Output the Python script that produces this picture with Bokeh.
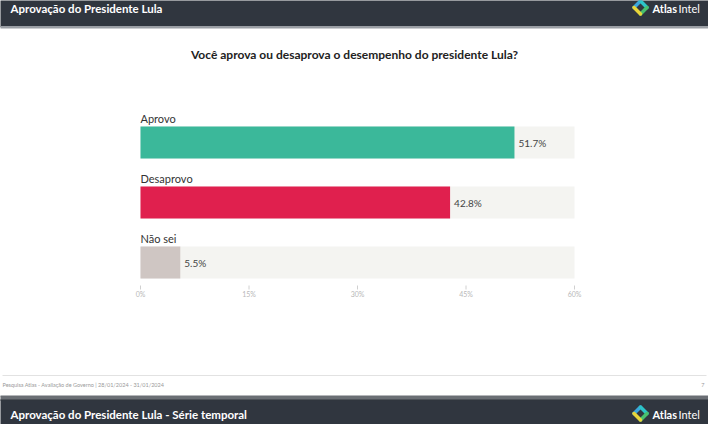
from bokeh.plotting import figure
from bokeh.models import Range1d
from bokeh.core.properties import value
from bokeh.embed import file_html
from bokeh.resources import INLINE

# ---------------- data ----------------
categories = ["Aprovo", "Desaprovo", "Não sei"]
values = [51.7, 42.8, 5.5]
value_labels = ["51.7%", "42.8%", "5.5%"]
bar_colors = ["#3bb89a", "#e0204e", "#cfc6c3"]
ticks = [0, 15, 30, 45, 60]
tick_labels = ["0%", "15%", "30%", "45%", "60%"]
axis_max = 60

chart_title = "Você aprova ou desaprova o desempenho do presidente Lula?"
header_text = "Aprovação do Presidente Lula"
next_header_text = "Aprovação do Presidente Lula - Série temporal"
footer_text = "Pesquisa Atlas - Avaliação de Governo | 28/01/2024 - 31/01/2024"
page_number = "7"

# ---------------- layout helpers (page pixels -> data units) ----------------
W, H = 708, 424
M = 8                      # page margin
X0_PX, XMAX_PX = 148, 582  # where 0% and 60% sit on the page
ROW0_PX, ROW_STEP = 150, 60
SX = (XMAX_PX - X0_PX) / axis_max


def X(px):
    return (px - X0_PX) / SX


def Y(py):
    return (py - ROW0_PX) / ROW_STEP


FONT = value("Lato")
DARK = "#30363f"

p = figure(width=W, height=H,
           x_range=Range1d(X(M), X(M + W)),
           y_range=Range1d(Y(M + H), Y(M)),
           x_axis_location=None, y_axis_location=None,
           min_border=0, toolbar_location=None, output_backend="svg",
           outline_line_color=None, background_fill_color="white",
           border_fill_color="white")
p.grid.visible = False

# slide header / next slide header
p.quad(left=X(0), right=X(724), top=Y(0), bottom=Y(34), color=DARK)
p.quad(left=X(0), right=X(724), top=Y(34), bottom=Y(35.5), color="#9a9ea4")
p.quad(left=X(0), right=X(724), top=Y(403.5), bottom=Y(407.5), color="#6b6f75")
p.quad(left=X(0), right=X(724), top=Y(407.5), bottom=Y(440), color=DARK)

p.text(x=[X(18)], y=[Y(16)], text=[header_text], text_font=FONT,
       text_font_style="bold", text_font_size="11.5px", text_color="#ffffff",
       text_baseline="middle", text_align="left")
p.text(x=[X(18)], y=[Y(422)], text=[next_header_text], text_font=FONT,
       text_font_style="bold", text_font_size="11.5px", text_color="#ffffff",
       text_baseline="middle", text_align="left")


def logo(cx, cy):
    r = 6.5
    pts = [(cx - r, cy), (cx, cy - r), (cx + r, cy), (cx, cy + r)]
    cols = ["#3aa6dc", "#2cc3c8", "#49c06d", "#e8d63a"]
    for i in range(4):
        a = pts[i]
        b = pts[(i + 1) % 4]
        p.segment(x0=[X(a[0])], y0=[Y(a[1])], x1=[X(b[0])], y1=[Y(b[1])],
                  line_color=cols[i], line_width=3.5, line_cap="round")
    p.text(x=[X(cx + 12)], y=[Y(cy + 1)], text=["Atlas"], text_font=FONT,
           text_font_style="bold", text_font_size="11px", text_color="#ffffff",
           text_baseline="middle", text_align="left")
    p.text(x=[X(cx + 38)], y=[Y(cy + 1)], text=["Intel"], text_font=FONT,
           text_font_size="11px", text_color="#ffffff",
           text_baseline="middle", text_align="left")


logo(648, 15)
logo(648, 421)

# title
p.text(x=[X(362)], y=[Y(62)], text=[chart_title], text_font=FONT,
       text_font_style="bold", text_font_size="12px", text_color="#222222",
       text_baseline="middle", text_align="center")

# bars
rows = list(range(len(categories)))
bar_h = 32 / ROW_STEP
p.hbar(y=rows, left=0, right=axis_max, height=bar_h,
       fill_color="#f4f4f1", line_color=None)
p.hbar(y=rows, left=0, right=values, height=bar_h,
       fill_color=bar_colors, line_color=None)

p.text(x=[0] * len(rows), y=[r - bar_h / 2 - 2 / ROW_STEP for r in rows],
       text=categories, text_font=FONT, text_font_size="11px",
       text_color="#333333", text_baseline="bottom", text_align="left")
p.text(x=[v + 4 / SX for v in values], y=rows, text=value_labels,
       text_font=FONT, text_font_size="10px", text_color="#444444",
       text_baseline="middle", text_align="left")

# axis ticks
p.segment(x0=ticks, x1=ticks, y0=[Y(293)] * len(ticks), y1=[Y(297)] * len(ticks),
          line_color="#d0d0d0", line_width=1)
p.text(x=ticks, y=[Y(301.5)] * len(ticks), text=tick_labels, text_font=FONT,
       text_font_size="7px", text_color="#b8b8b8",
       text_baseline="middle", text_align="center")

# footer
p.segment(x0=[X(10)], x1=[X(714)], y0=[Y(383)], y1=[Y(383)],
          line_color="#e2e2e2", line_width=1)
p.text(x=[X(10)], y=[Y(392)], text=[footer_text], text_font=FONT,
       text_font_size="5.5px", text_color="#9a9a9a",
       text_baseline="middle", text_align="left")
p.text(x=[X(712)], y=[Y(392)], text=[page_number], text_font=FONT,
       text_font_size="5.5px", text_color="#9a9a9a",
       text_baseline="middle", text_align="right")

open("out.html", "w").write(file_html(p, INLINE))
